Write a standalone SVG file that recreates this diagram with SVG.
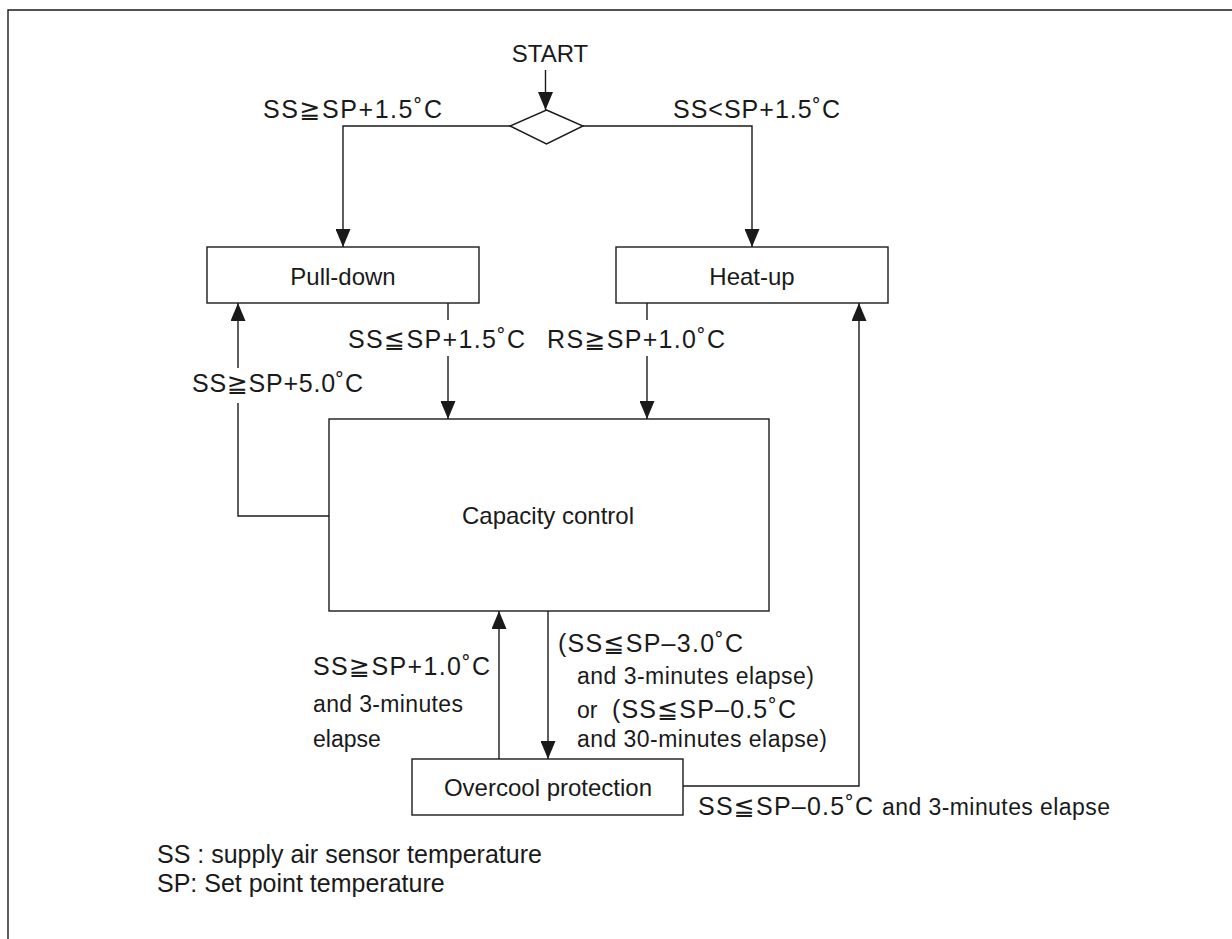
<svg xmlns="http://www.w3.org/2000/svg" width="1232" height="939" viewBox="0 0 1232 939">
<style>
  .box { fill: #ffffff; stroke: #1a1a1a; stroke-width: 1.4; }
  .ln { fill: none; stroke: #1a1a1a; stroke-width: 1.4; }
  .node { font-family: "Liberation Sans", Arial, "DejaVu Sans", sans-serif; font-size: 24px; fill: #1a1a1a; text-anchor: middle; }
  .cond { font-family: "Liberation Sans", Arial, "DejaVu Sans", sans-serif; font-size: 25px; fill: #1a1a1a; }
  .small { font-family: "Liberation Sans", Arial, "DejaVu Sans", sans-serif; font-size: 23px; fill: #1a1a1a; }
</style>
<defs>
  <marker id="arr" markerUnits="userSpaceOnUse" markerWidth="18" markerHeight="15" refX="18" refY="7.5" viewBox="0 0 18 15" orient="auto">
    <path d="M0,0 L18,7.5 L0,15 Z" fill="#1a1a1a"/>
  </marker>
</defs>
<rect x="0" y="0" width="1232" height="939" fill="#ffffff"/>
<path class="ln" d="M8,939 V10 H1232" stroke-width="2"/>

<g id="start">
  <text class="node" x="550" y="62">START</text>
</g>
<g id="decision">
  <polygon class="box" points="546.5,110 583,126 546.5,144 510,126"/>
</g>
<g id="pulldown">
  <rect class="box" x="207" y="247" width="272" height="56"/>
  <text class="node" x="343" y="285">Pull-down</text>
</g>
<g id="heatup">
  <rect class="box" x="616" y="247" width="272" height="56"/>
  <text class="node" x="752" y="285">Heat-up</text>
</g>
<g id="capacity">
  <rect class="box" x="329" y="419" width="440" height="192"/>
  <text class="node" x="548" y="524">Capacity control</text>
</g>
<g id="overcool">
  <rect class="box" x="412" y="759" width="271" height="56"/>
  <text class="node" x="548" y="796">Overcool protection</text>
</g>

<g id="connectors">
  <path class="ln" d="M545.5,70 V110" marker-end="url(#arr)"/>
  <path class="ln" d="M510,126 H343 V247" marker-end="url(#arr)"/>
  <path class="ln" d="M583,126 H752 V247" marker-end="url(#arr)"/>
  <path class="ln" d="M448,303 V320"/>
  <path class="ln" d="M448,356 V419" marker-end="url(#arr)"/>
  <path class="ln" d="M647,303 V320"/>
  <path class="ln" d="M647,356 V419" marker-end="url(#arr)"/>
  <path class="ln" d="M329,516 H238 V403"/>
  <path class="ln" d="M238,368 V303" marker-end="url(#arr)"/>
  <path class="ln" d="M548,611 V759" marker-end="url(#arr)"/>
  <path class="ln" d="M499,759 V611" marker-end="url(#arr)"/>
  <path class="ln" d="M683,786 H859 V303" marker-end="url(#arr)"/>
</g>

<g id="labels">
  <text class="cond" x="263" y="118" textLength="179">SS≧SP+1.5˚C</text>
  <text class="cond" x="673" y="118" textLength="167">SS&lt;SP+1.5˚C</text>
  <text class="cond" x="348" y="348" textLength="177">SS≦SP+1.5˚C</text>
  <text class="cond" x="547" y="348" textLength="178">RS≧SP+1.0˚C</text>
  <text class="cond" x="192" y="392" textLength="171">SS≧SP+5.0˚C</text>
  <text class="cond" x="313" y="675" textLength="177">SS≧SP+1.0˚C</text>
  <text class="small" x="313" y="712" textLength="150">and 3-minutes</text>
  <text class="small" x="313" y="747">elapse</text>
  <text class="cond" x="558" y="652" textLength="185">(SS≦SP–3.0˚C</text>
  <text class="small" x="577" y="684" textLength="237">and 3-minutes elapse)</text>
  <text class="small" x="577" y="718">or</text>
  <text class="cond" x="612" y="718" textLength="184">(SS≦SP–0.5˚C</text>
  <text class="small" x="577" y="747" textLength="250">and 30-minutes elapse)</text>
  <text class="cond" x="698" y="815" textLength="175">SS≦SP–0.5˚C</text>
  <text class="small" x="882" y="815" textLength="228">and 3-minutes elapse</text>
</g>

<g id="legend">
  <text class="cond" x="157" y="863">SS : supply air sensor temperature</text>
  <text class="cond" x="157" y="892">SP: Set point temperature</text>
</g>
</svg>
